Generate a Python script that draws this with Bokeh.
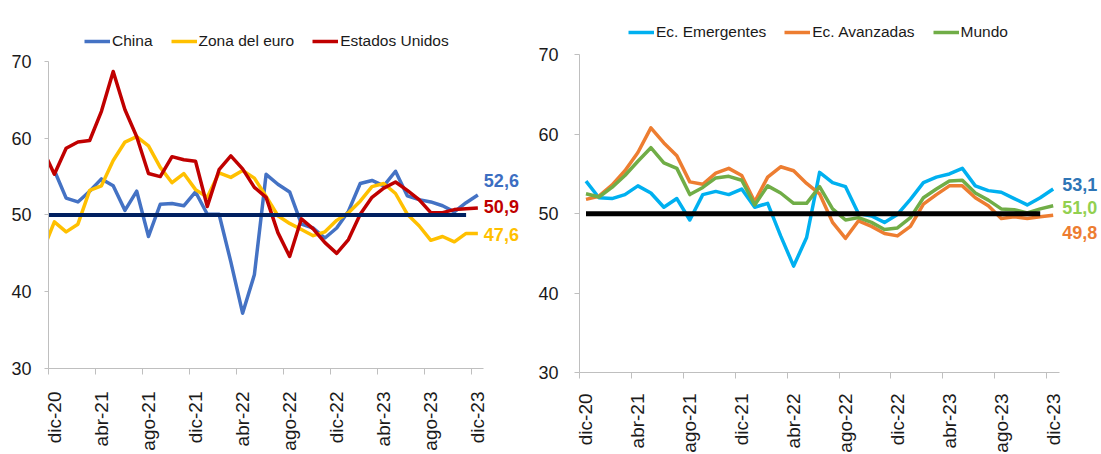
import numpy as np
from bokeh.plotting import figure
from bokeh.models import ColumnDataSource, FixedTicker, Legend, LegendItem, LabelSet, Range1d
from bokeh.core.properties import value
from bokeh.layouts import row
from bokeh.embed import file_html
from bokeh.resources import INLINE

# ---------------- data ----------------
meses = ["nov-20", "dic-20", "ene-21", "feb-21", "mar-21", "abr-21", "may-21", "jun-21",
         "jul-21", "ago-21", "sep-21", "oct-21", "nov-21", "dic-21", "ene-22", "feb-22",
         "mar-22", "abr-22", "may-22", "jun-22", "jul-22", "ago-22", "sep-22", "oct-22",
         "nov-22", "dic-22", "ene-23", "feb-23", "mar-23", "abr-23", "may-23", "jun-23",
         "jul-23", "ago-23", "sep-23", "oct-23", "nov-23", "dic-23"]
etiquetas_x = ["dic-20", "abr-21", "ago-21", "dic-21", "abr-22", "ago-22",
               "dic-22", "abr-23", "ago-23", "dic-23"]

# left panel (nov-20 .. dic-23)
china = [np.nan, 55.8, 52.2, 51.7, 53.1, 54.7, 53.8, 50.6, 53.1, 47.2, 51.4, 51.5, 51.2,
         53.0, 50.1, 50.1, 43.9, 37.2, 42.2, 55.3, 54.0, 53.0, 48.8, 48.3, 47.0, 48.3,
         50.5, 54.1, 54.5, 53.8, 55.7, 52.5, 52.0, 51.7, 51.2, 50.4, 51.6, 52.6]
zona_euro = [45.3, 49.1, 47.8, 48.8, 53.2, 53.8, 57.1, 59.5, 60.2, 59.0, 56.2, 54.2, 55.4,
             53.3, 52.3, 55.5, 54.9, 55.8, 54.8, 52.4, 49.9, 48.9, 48.1, 47.3, 47.8, 49.3,
             50.3, 51.8, 53.7, 54.1, 52.8, 50.1, 48.6, 46.7, 47.2, 46.5, 47.6, 47.6]
ee_uu = [58.6, 55.3, 58.7, 59.5, 59.7, 63.5, 68.7, 63.7, 60.2, 55.4, 55.0, 57.6, 57.2,
         57.0, 51.1, 55.9, 57.7, 56.0, 53.6, 52.3, 47.7, 44.6, 49.5, 48.2, 46.4, 45.0,
         46.8, 50.1, 52.3, 53.5, 54.3, 53.2, 52.0, 50.3, 50.3, 50.7, 50.8, 50.9]

# right panel (dic-20 .. dic-23)
emergentes = [54.1, 52.0, 51.9, 52.4, 53.5, 52.6, 50.8, 51.9, 49.2, 52.4, 52.8, 52.4, 53.1,
              50.8, 51.3, 47.2, 43.4, 47.0, 55.2, 53.9, 53.4, 50.0, 49.7, 48.9, 49.9, 51.8,
              53.9, 54.6, 55.0, 55.7, 53.5, 52.9, 52.7, 51.9, 51.1, 52.0, 53.1]
avanzadas = [51.8, 52.2, 53.6, 55.4, 57.7, 60.8, 58.9, 57.3, 54.0, 53.7, 55.1, 55.7, 54.8,
             51.5, 54.6, 55.9, 55.4, 53.8, 52.5, 48.9, 46.9, 49.1, 48.4, 47.5, 47.2, 48.4,
             51.2, 52.4, 53.5, 53.5, 52.0, 51.0, 49.4, 49.6, 49.4, 49.6, 49.8]
mundo = [52.5, 52.1, 53.3, 54.8, 56.6, 58.3, 56.4, 55.7, 52.4, 53.3, 54.5, 54.7, 54.2,
         51.1, 53.5, 52.6, 51.3, 51.3, 53.4, 50.6, 49.2, 49.5, 48.9, 48.0, 48.2, 49.5,
         52.0, 53.1, 54.1, 54.2, 52.6, 51.7, 50.6, 50.5, 50.1, 50.6, 51.0]

umbral = 50
fin_umbral = "nov-23"

FONT = "Liberation Sans"
AXIS_GRAY = "#BFBFBF"
TXT = "#1a1a1a"

pos = {m: i - 1 for i, m in enumerate(meses)}  # dic-20 -> 0


def base_fig(frame_w, frame_h, b_left, x_end, y_end, tick_out, y_standoff, x_standoff):
    p = figure(frame_width=frame_w, frame_height=frame_h,
               x_range=Range1d(-0.5, x_end), y_range=Range1d(30, y_end),
               output_backend="svg", toolbar_location=None,
               min_border_left=b_left, min_border_right=0,
               min_border_top=8, min_border_bottom=40)
    p.outline_line_color = None
    p.xgrid.visible = False
    p.ygrid.visible = False
    p.background_fill_color = "white"
    p.border_fill_color = "white"

    ticks = [pos[m] for m in etiquetas_x]
    xa = p.xaxis[0]
    xa.ticker = FixedTicker(ticks=ticks, minor_ticks=[t - 0.5 for t in ticks])
    xa.bounds = (-0.5, pos["dic-23"] + 0.5)
    xa.major_label_overrides = {t: m for t, m in zip(ticks, etiquetas_x)}
    xa.major_label_orientation = np.pi / 2
    xa.major_tick_line_color = None
    xa.major_tick_out = 0
    xa.major_tick_in = 0
    xa.minor_tick_out = 6
    xa.minor_tick_in = 0
    xa.minor_tick_line_color = AXIS_GRAY
    xa.axis_line_color = AXIS_GRAY
    xa.major_label_standoff = x_standoff
    xa.major_label_text_font = FONT
    xa.major_label_text_font_size = "19px"
    xa.major_label_text_color = TXT

    ya = p.yaxis[0]
    ya.ticker = FixedTicker(ticks=[30, 40, 50, 60, 70], minor_ticks=[])
    ya.bounds = (30, 70)
    ya.major_tick_out = tick_out
    ya.major_tick_in = 0
    ya.major_tick_line_color = AXIS_GRAY
    ya.minor_tick_line_color = None
    ya.axis_line_color = AXIS_GRAY
    ya.major_label_standoff = y_standoff
    ya.major_label_text_font = FONT
    ya.major_label_text_font_size = "18px"
    ya.major_label_text_color = TXT
    return p


def add_legend(p, items, loc):
    lg = Legend(items=[LegendItem(label=l, renderers=[r]) for l, r in items],
                orientation="horizontal", location=loc,
                glyph_width=26, glyph_height=18, label_standoff=2, spacing=18,
                padding=0, margin=0, label_height=18,
                label_text_font=FONT, label_text_font_size="15.5px", label_text_color=TXT,
                background_fill_alpha=0, border_line_color=None)
    p.add_layout(lg)


def add_end_labels(p, xs, ys, texts, colors, dy, dx):
    src = ColumnDataSource(dict(x=xs, y=ys, text=texts, color=colors, dy=dy))
    ls = LabelSet(x="x", y="y", text="text", source=src, text_color="color",
                  y_offset="dy", x_offset=dx, text_font=value(FONT),
                  text_font_size=value("18px"), text_font_style=value("bold"),
                  text_baseline=value("middle"), text_align=value("left"))
    p.add_layout(ls)


def fmt(v):
    return f"{v:.1f}".replace(".", ",")


LW = 3.5

# ---------------- left panel ----------------
x_izq = [pos[m] for m in meses]
p1 = base_fig(487, 360, 48, 40.9, 76.9, 4, 13, 17)
r_ch = p1.line(x_izq, china, line_color="#4472C4", line_width=LW, line_join="round")
r_ez = p1.line(x_izq, zona_euro, line_color="#FFC000", line_width=LW, line_join="round")
r_us = p1.line(x_izq, ee_uu, line_color="#C00000", line_width=LW, line_join="round")
x_u1 = [pos[m] for m in meses if pos[m] <= pos[fin_umbral]]
p1.line(x_u1, [umbral] * len(x_u1), line_color="#002060", line_width=4)
add_legend(p1, [("China", r_ch), ("Zona del euro", r_ez), ("Estados Unidos", r_us)], (36, 318))
last = pos["dic-23"]
add_end_labels(p1, [last] * 3, [china[-1], ee_uu[-1], zona_euro[-1]],
               [fmt(china[-1]), fmt(ee_uu[-1]), fmt(zona_euro[-1])],
               ["#3C6EC2", "#C00000", "#FFC000"], [15, 2, -1], 6)

# ---------------- right panel ----------------
x_der = [pos[m] for m in meses[1:]]
p2 = base_fig(523, 364, 43, 39.8, 75.83, 5, 16, 15)
r_em = p2.line(x_der, emergentes, line_color="#00B0F0", line_width=LW, line_join="round")
r_av = p2.line(x_der, avanzadas, line_color="#ED7D31", line_width=LW, line_join="round")
r_mu = p2.line(x_der, mundo, line_color="#70AD47", line_width=LW, line_join="round")
x_u2 = [pos[m] for m in meses[1:] if pos[m] <= pos[fin_umbral]]
p2.line(x_u2, [umbral] * len(x_u2), line_color="#000000", line_width=5)
add_legend(p2, [("Ec. Emergentes", r_em), ("Ec. Avanzadas", r_av), ("Mundo", r_mu)], (49, 331))
add_end_labels(p2, [last] * 3, [emergentes[-1], mundo[-1], avanzadas[-1]],
               [fmt(emergentes[-1]), fmt(mundo[-1]), fmt(avanzadas[-1])],
               ["#2E75B6", "#92D050", "#ED7D31"], [5, -2, -17], 9)

layout = row(p1, p2)
open("out.html", "w").write(file_html(layout, INLINE))
